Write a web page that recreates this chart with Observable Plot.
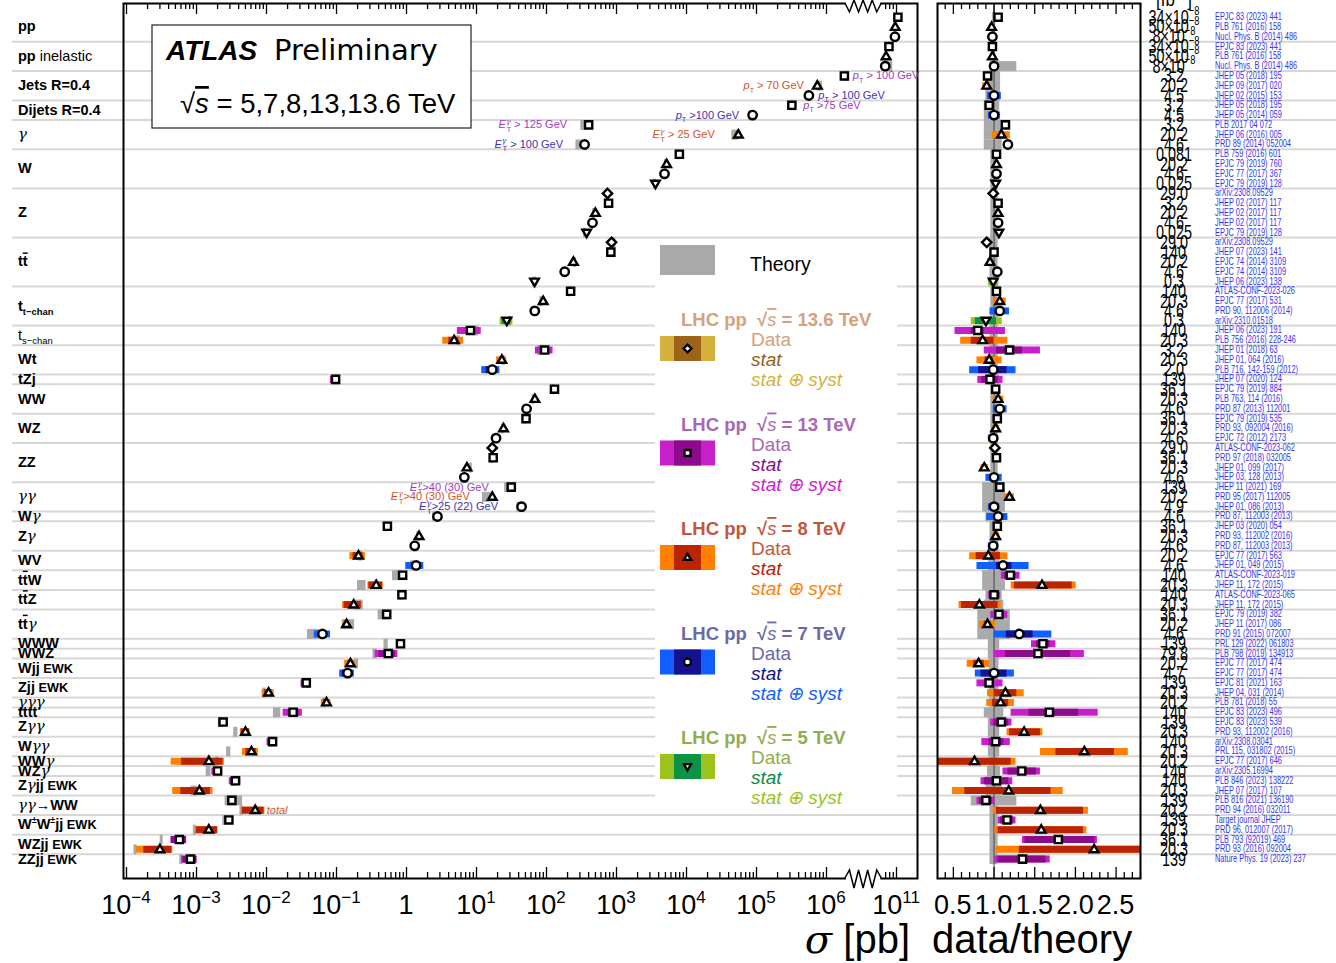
<!DOCTYPE html>
<html>
<head>
<meta charset="utf-8">
<script src="https://cdn.jsdelivr.net/npm/d3@7"></script>
<script src="https://cdn.jsdelivr.net/npm/@observablehq/plot@0.6"></script>
<style>
  html, body { margin: 0; padding: 0; background: #fff; }
  #wrap { position: relative; width: 1336px; height: 963px; overflow: hidden; background: #fff; }
  #main { position: absolute; left: 0; top: 0; width: 930px; height: 963px; }
  #ratio { position: absolute; left: 930px; top: 0; width: 406px; height: 963px; }
  svg { overflow: visible; }
</style>
</head>
<body>
<div id="wrap"><div id="main"></div><div id="ratio"></div></div>
<script>
// ---------------------------------------------------------------------------
// Standard Model total and fiducial production cross-section measurements
// ---------------------------------------------------------------------------

// Process groups (rich-text label pieces) and the number of measurements in each
const processLabels = [
  [["b","pp"]],
  [["b","pp"],["n"," inelastic"]],
  [["b","Jets R=0.4"]],
  [["b","Dijets R=0.4"]],
  [["g","γ"]],
  [["b","W"]],
  [["b","Z"]],
  [["b","t"],["ob","t"]],
  [["b","t"],["subb","t−chan"]],
  [["n","t"],["sub","s−chan"]],
  [["b","Wt"]],
  [["b","tZj"]],
  [["b","WW"]],
  [["b","WZ"]],
  [["b","ZZ"]],
  [["g","γγ"]],
  [["b","W"],["g","γ"]],
  [["b","Z"],["g","γ"]],
  [["b","WV"]],
  [["b","t"],["ob","t"],["b","W"]],
  [["b","t"],["ob","t"],["b","Z"]],
  [["b","t"],["ob","t"],["g","γ"]],
  [["b","WWW"]],
  [["b","WWZ"]],
  [["b","Wjj"],["sm"," EWK"]],
  [["b","Zjj"],["sm"," EWK"]],
  [["g","γγγ"]],
  [["b","tttt"]],
  [["b","Z"],["g","γγ"]],
  [["b","W"],["g","γγ"]],
  [["b","WW"],["g","γ"]],
  [["b","WZ"],["g","γ"]],
  [["b","Z"],["g","γ"],["b","jj"],["sm"," EWK"]],
  [["g","γγ"],["b","→WW"]],
  [["b","W"],["supb","±"],["b","W"],["supb","±"],["b","jj"],["sm"," EWK"]],
  [["b","WZjj"],["sm"," EWK"]],
  [["b","ZZjj"],["sm"," EWK"]]
];
const groupSizes = [3,3,3,2,3,4,5,5,4,2,3,1,3,3,4,3,1,3,2,2,2,3,1,1,2,2,1,1,2,2,1,1,2,2,2,2,1];

// Centre-of-mass energy (TeV) of each measurement, top to bottom
const energies = [
  13,8,7,  13,8,7,  13,8,7,  13,7,  13,8,7,  13,8,7,5,  13.6,13,8,7,5,  13.6,13,8,7,5,
  13,8,7,5,  13,8,  13,8,7,  13,  13,8,7,  13,8,7,  13.6,13,8,7,  13,8,7,  7,  13,8,7,
  8,7,  13,8,  13,8,  13,8,7,  13,  13,  8,7,  13,8,  8,  13,  13,8,  13,8,  8,  13,
  13,8,  13,8,  13,8,  13,8,  13
];

// Measured cross-section, pb
const sigma = [
  1.047e11, 9.6e10, 9.5e10,
  7.8e10, 7.1e10, 6.9e10,
  1.8e6, 7.4e5, 5.6e5,
  3.2e5, 8.8e4,
  400, 5.5e4, 350,
  7900, 5200, 4850, 3600,
  744, 770, 500, 454, 374,
  850, 830, 242, 182, 67.5,
  221, 89.6, 68, 27.1,
  8.2, 4.8,
  94, 23, 16.8,
  0.097,
  130, 68.2, 51.9,
  51, 24.3, 19,
  16.8, 17.3, 7.3, 6.7,
  31.4, 16.8, 44,
  2.77,
  0.533, 1.51, 1.31,
  0.206, 1.37,
  0.88, 0.369,
  0.86, 0.176,
  0.521, 0.139, 0.063,
  0.82,
  0.55,
  0.158, 0.144,
  0.037, 0.0107,
  0.072,
  0.024,
  0.0024, 0.005,
  0.0122, 0.0061,
  0.0015,
  0.002,
  0.0036, 0.0011,
  0.0032, 0.0069,
  0.0029, 0.0015,
  0.00057, 0.0003,
  0.00082
];

// data / theory
const ratio = [
  1.05, 0.97, 0.98,
  0.98, 0.98, 1.00,
  0.92, 0.91, 1.00,
  0.94, 1.00,
  1.14, 1.09, 1.17,
  1.03, 1.03, 1.03, 1.02,
  0.99, 1.05, 1.05, 1.05, 1.06,
  0.91, 1.00, 0.95, 1.04, 0.99,
  1.03, 1.07, 1.07, 0.90,
  0.80, 0.86,
  1.19, 0.94, 0.99,
  0.95,
  1.02, 1.05, 1.07,
  1.04, 1.02, 0.99,
  1.01, 1.03, 0.88, 1.00,
  1.07, 1.19, 1.00,
  1.05,
  1.04, 1.02, 0.99,
  0.93, 1.11,
  1.20, 1.59,
  1.00, 0.82,
  1.06, 0.92, 1.31,
  1.60,
  1.54,
  0.81, 1.00,
  0.94, 1.14,
  1.08,
  1.68,
  1.09, 1.37,
  1.02, 2.11,
  0.76,
  1.34,
  1.03, 1.18,
  0.90, 1.57,
  1.16, 1.58,
  1.79, 2.23,
  1.35
];

// Statistical uncertainty interval, in data/theory units
const statBand = [
  [1.04,1.06],[0.965,0.975],[0.975,0.985],
  [0.975,0.985],[0.975,0.985],[0.995,1.005],
  [0.915,0.925],[0.90,0.92],[0.99,1.01],
  [0.935,0.945],[0.99,1.01],
  [1.13,1.15],[1.08,1.10],[1.16,1.18],
  [1.02,1.04],[1.025,1.035],[1.025,1.035],[1.01,1.03],
  [0.985,0.995],[1.045,1.055],[1.045,1.055],[1.045,1.055],[1.05,1.07],
  [0.905,0.915],[0.995,1.005],[0.945,0.955],[1.035,1.045],[0.96,1.02],
  [1.025,1.035],[1.06,1.08],[1.05,1.09],[0.77,1.03],
  [0.72,0.88],[0.72,1.00],
  [1.03,1.35],[0.89,0.99],[0.81,1.16],
  [0.85,1.05],
  [1.015,1.025],[1.04,1.06],[1.05,1.09],
  [1.03,1.05],[1.01,1.03],[0.97,1.01],
  [0.99,1.03],[1.02,1.04],[0.86,0.90],[0.95,1.05],
  [1.06,1.08],[1.18,1.20],[0.98,1.02],
  [1.02,1.08],
  [1.03,1.05],[1.01,1.03],[0.97,1.01],
  [0.78,1.08],[1.03,1.22],
  [1.13,1.27],[1.25,1.96],
  [0.97,1.03],[0.60,1.05],
  [1.03,1.09],[0.88,0.96],[1.15,1.48],
  [1.52,1.69],
  [1.14,1.94],
  [0.75,0.88],[0.84,1.16],
  [0.88,1.00],[1.00,1.28],
  [0.98,1.18],
  [1.43,2.04],
  [1.00,1.18],[1.19,1.57],
  [0.94,1.12],[1.76,2.48],
  [0.31,1.21],
  [1.17,1.52],
  [0.88,1.18],[0.64,1.70],
  [0.82,0.98],[1.03,2.10],
  [1.08,1.24],[1.05,2.10],
  [1.38,2.24],[1.31,3.30],
  [1.05,1.64]
];

// Statistical ⊕ systematic uncertainty interval, in data/theory units
const totalBand = [
  [1.03,1.07],[0.95,0.99],[0.96,1.00],
  [0.95,1.01],[0.96,1.00],[0.97,1.03],
  [0.88,0.96],[0.86,0.96],[0.92,1.09],
  [0.90,0.98],[0.93,1.08],
  [1.10,1.18],[0.98,1.20],[1.12,1.22],
  [1.00,1.06],[1.00,1.06],[1.01,1.05],[0.99,1.05],
  [0.97,1.01],[1.03,1.07],[1.03,1.07],[1.03,1.07],[1.03,1.09],
  [0.88,0.94],[0.97,1.03],[0.92,0.98],[1.00,1.08],[0.93,1.05],
  [0.99,1.07],[0.99,1.15],[0.95,1.19],[0.72,1.10],
  [0.52,1.14],[0.59,1.17],
  [0.88,1.57],[0.79,1.10],[0.70,1.27],
  [0.80,1.11],
  [0.98,1.06],[0.99,1.12],[0.99,1.16],
  [0.99,1.09],[0.97,1.07],[0.93,1.05],
  [0.96,1.06],[0.99,1.07],[0.84,0.93],[0.90,1.10],
  [1.03,1.11],[1.13,1.25],[0.93,1.07],
  [0.91,1.17],
  [0.99,1.09],[0.97,1.07],[0.93,1.05],
  [0.70,1.17],[0.79,1.43],
  [1.09,1.32],[1.21,2.01],
  [0.93,1.08],[0.57,1.09],
  [0.96,1.17],[0.82,1.02],[1.00,1.71],
  [1.46,1.76],
  [1.00,2.11],
  [0.67,0.95],[0.77,1.25],
  [0.79,1.11],[0.92,1.37],
  [0.91,1.25],
  [1.21,2.28],
  [0.96,1.22],[1.16,1.60],
  [0.85,1.20],[1.57,2.65],
  [0.22,1.27],
  [1.11,1.57],
  [0.84,1.23],[0.49,1.85],
  [0.79,1.01],[0.99,2.16],
  [1.05,1.27],[1.01,2.14],
  [1.35,2.27],[1.03,3.40],
  [1.01,1.69]
];

// Theory uncertainty interval, relative to the prediction
const theoryBand = [
  [0.98,1.02],[0.98,1.02],[0.98,1.02],
  [0.98,1.02],[0.98,1.02],[0.95,1.28],
  [0.90,1.08],[0.90,1.08],[0.90,1.08],
  [0.88,1.07],[0.88,1.07],
  [0.88,1.10],[0.88,1.10],[0.88,1.10],
  [0.96,1.05],[0.96,1.05],[0.96,1.05],[0.96,1.05],
  [0.96,1.05],[0.96,1.05],[0.96,1.05],[0.96,1.05],[0.96,1.05],
  [0.95,1.05],[0.95,1.05],[0.95,1.05],[0.95,1.05],[0.94,1.06],
  [0.96,1.05],[0.96,1.05],[0.96,1.05],[0.96,1.05],
  [0.95,1.05],[0.95,1.05],
  [0.95,1.05],[0.95,1.05],[0.95,1.05],
  [0.93,1.07],
  [0.96,1.05],[0.96,1.05],[0.96,1.05],
  [0.96,1.05],[0.96,1.05],[0.96,1.05],
  [0.96,1.05],[0.96,1.05],[0.96,1.05],[0.96,1.05],
  [0.86,1.14],[0.86,1.14],[0.86,1.14],
  [0.90,1.10],
  [0.95,1.06],[0.95,1.06],[0.95,1.06],
  [0.93,1.07],[0.93,1.07],
  [0.86,1.14],[0.86,1.14],
  [0.90,1.10],[0.88,1.12],
  [0.80,1.20],[0.80,1.20],[0.80,1.20],
  [0.93,1.07],
  [0.93,1.07],
  [0.94,1.06],[0.94,1.06],
  [0.94,1.06],[0.94,1.06],
  [0.95,1.05],
  [0.88,1.12],
  [0.93,1.07],[0.93,1.07],
  [0.93,1.07],[0.93,1.07],
  [0.95,1.05],
  [0.92,1.08],
  [0.90,1.10],[0.90,1.10],
  [0.72,1.28],[0.95,1.05],
  [0.95,1.05],[0.95,1.05],
  [0.95,1.05],[0.95,1.05],
  [0.95,1.05]
];

// Integrated luminosity, fb⁻¹
const lumi = [
  "34×10⁻⁸","50×10⁻⁸","8×10⁻⁸",
  "34×10⁻⁸","50×10⁻⁸","8×10⁻⁸",
  "3.2","20.2","4.5",
  "3.2","4.5",
  "3.2","20.2","4.6",
  "0.081","20.2","4.6","0.025",
  "29.0","3.2","20.2","4.6","0.025",
  "29.0","140","20.2","4.6","0.3",
  "140","20.3","4.6","0.3",
  "140","20.3",
  "3.2","20.3","2.0",
  "139",
  "36.1","20.3","4.6",
  "36.1","20.3","4.6",
  "29.0","36.1","20.3","4.6",
  "139","20.2","4.9",
  "4.6",
  "36.1","20.3","4.6",
  "20.2","4.6",
  "140","20.3",
  "140","20.3",
  "36.1","20.2","4.6",
  "139",
  "79.8",
  "20.2","4.7",
  "139","20.3",
  "20.2",
  "140",
  "139","20.3",
  "140","20.3",
  "20.2",
  "140",
  "140","20.3",
  "139","20.2",
  "139","20.3",
  "36.1","20.3",
  "139"
];

// Publication of each measurement
const refs = [
  "EPJC 83 (2023) 441","PLB 761 (2016) 158","Nucl. Phys. B (2014) 486",
  "EPJC 83 (2023) 441","PLB 761 (2016) 158","Nucl. Phys. B (2014) 486",
  "JHEP 05 (2018) 195","JHEP 09 (2017) 020","JHEP 02 (2015) 153",
  "JHEP 05 (2018) 195","JHEP 05 (2014) 059",
  "PLB 2017 04 072","JHEP 06 (2016) 005","PRD 89 (2014) 052004",
  "PLB 759 (2016) 601","EPJC 79 (2019) 760","EPJC 77 (2017) 367","EPJC 79 (2019) 128",
  "arXiv:2308.09529","JHEP 02 (2017) 117","JHEP 02 (2017) 117","JHEP 02 (2017) 117","EPJC 79 (2019) 128",
  "arXiv:2308.09529","JHEP 07 (2023) 141","EPJC 74 (2014) 3109","EPJC 74 (2014) 3109","JHEP 06 (2023) 138",
  "ATLAS-CONF-2023-026","EPJC 77 (2017) 531","PRD 90, 112006 (2014)","arXiv:2310.01518",
  "JHEP 06 (2023) 191","PLB 756 (2016) 228-246",
  "JHEP 01 (2018) 63","JHEP 01, 064 (2016)","PLB 716, 142-159 (2012)",
  "JHEP 07 (2020) 124",
  "EPJC 79 (2019) 884","PLB 763, 114 (2016)","PRD 87 (2013) 112001",
  "EPJC 79 (2019) 535","PRD 93, 092004 (2016)","EPJC 72 (2012) 2173",
  "ATLAS-CONF-2023-062","PRD 97 (2018) 032005","JHEP 01, 099 (2017)","JHEP 03, 128 (2013)",
  "JHEP 11 (2021) 169","PRD 95 (2017) 112005","JHEP 01, 086 (2013)",
  "PRD 87, 112003 (2013)",
  "JHEP 03 (2020) 054","PRD 93, 112002 (2016)","PRD 87, 112003 (2013)",
  "EPJC 77 (2017) 563","JHEP 01, 049 (2015)",
  "ATLAS-CONF-2023-019","JHEP 11, 172 (2015)",
  "ATLAS-CONF-2023-065","JHEP 11, 172 (2015)",
  "EPJC 79 (2019) 382","JHEP 11 (2017) 086","PRD 91 (2015) 072007",
  "PRL 129 (2022) 061803",
  "PLB 798 (2019) 134913",
  "EPJC 77 (2017) 474","EPJC 77 (2017) 474",
  "EPJC 81 (2021) 163","JHEP 04, 031 (2014)",
  "PLB 781 (2018) 55",
  "EPJC 83 (2023) 496",
  "EPJC 83 (2023) 539","PRD 93, 112002 (2016)",
  "arXiv:2308.03041","PRL 115, 031802 (2015)",
  "EPJC 77 (2017) 646",
  "arXiv:2305.16994",
  "PLB 846 (2023) 138222","JHEP 07 (2017) 107",
  "PLB 816 (2021) 136190","PRD 94 (2016) 032011",
  "Target journal JHEP","PRD 96, 012007 (2017)",
  "PLB 793 (92019) 469","PRD 93 (2016) 092004",
  "Nature Phys. 19 (2023) 237"
];

// Phase-space annotations: measurement row, side of the marker, gap (px), energy colour, text
const noteRows   = [6, 7, 8, 9, 10, 11, 12, 13, 48, 49, 50, 81];
const noteSide   = [1, -1, 1, 1, -1, -1, -1, -1, -1, -1, -1, 1];
const noteGap    = [9, 13, 10, 12, 13, 21, 23, 21, 22, 22, 23, 12];
const noteEnergy = [13, 8, 7, 13, 7, 13, 8, 7, 13, 8, 7, 8];
const noteText = [
  [["i","p"],["sub","T"],["n"," > 100 GeV"]],
  [["i","p"],["sub","T"],["n"," > 70 GeV"]],
  [["i","p"],["sub","T"],["n"," > 100 GeV"]],
  [["i","p"],["sub","T"],["n"," >75 GeV"]],
  [["i","p"],["sub","T"],["n"," >100 GeV"]],
  [["i","E"],["supg","γ"],["subx","T"],["n"," > 125 GeV"]],
  [["i","E"],["supg","γ"],["subx","T"],["n"," > 25 GeV"]],
  [["i","E"],["supg","γ"],["subx","T"],["n"," > 100 GeV"]],
  [["i","E"],["supg","γ"],["subx","T"],["n",">40 (30) GeV"]],
  [["i","E"],["supg","γ"],["subx","T"],["n",">40 (30) GeV"]],
  [["i","E"],["supg","γ"],["subx","T"],["n",">25 (22) GeV"]],
  [["i","total"]]
];

// Axis ticks
const mainMajorTicks = [1e-4, 1e-3, 1e-2, 1e-1, 1, 10, 100, 1e3, 1e4, 1e5, 1e6, 1e11];
const mainTickLabels = [["10","−4"],["10","−3"],["10","−2"],["10","−1"],["1",""],["10","1"],["10","2"],["10","3"],["10","4"],["10","5"],["10","6"],["10","11"]];
const ratioMajorTicks = [0.5, 1.0, 1.5, 2.0, 2.5];
const legendEnergies = [13.6, 13, 8, 7, 5];

// ---------------------------------------------------------------------------
// Styling
// ---------------------------------------------------------------------------
const SANS = "'Liberation Sans', Arial, Helvetica, sans-serif";
const DEJAVU = "'DejaVu Sans', 'Liberation Sans', sans-serif";
const SERIF = "'DejaVu Serif', 'Liberation Serif', serif";
const palette = {
  13.6: {syst: "#d5b13c", stat: "#9b6418", head: "#d6a07d", statText: "#93601a", systText: "#d5b13c", note: "#b08030"},
  13:   {syst: "#c91ecb", stat: "#8b0b8b", head: "#a968b3", statText: "#8b0b8b", systText: "#cc22cc", note: "#a23ac2"},
  8:    {syst: "#ff8000", stat: "#bb2400", head: "#c2573c", statText: "#b82200", systText: "#ff7f00", note: "#d4512c"},
  7:    {syst: "#0f5fff", stat: "#14128c", head: "#6b6aa7", statText: "#14128c", systText: "#1060ff", note: "#3b33b0"},
  5:    {syst: "#9cc31d", stat: "#0a9344", head: "#8fae4e", statText: "#0a8a40", systText: "#9cc31d", note: "#6a9a2a"}
};
const THEORY_GREY = "#aaaaaa";
const SEPARATOR = "#d7d7d7";

// Open markers, one shape per centre-of-mass energy
const rOf = size => Math.sqrt(size / Math.PI);
const markerOf = {
  13.6: {draw(c, s) { const r = rOf(s) * 1.3; c.moveTo(0, -r); c.lineTo(r, 0); c.lineTo(0, r); c.lineTo(-r, 0); c.closePath(); }},
  13:   {draw(c, s) { const r = rOf(s); c.rect(-r, -r, 2 * r, 2 * r); }},
  8:    {draw(c, s) { const r = rOf(s); c.moveTo(0, -1.25 * r); c.lineTo(1.2 * r, 0.8 * r); c.lineTo(-1.2 * r, 0.8 * r); c.closePath(); }},
  7:    {draw(c, s) { const r = rOf(s) * 1.17; c.moveTo(r, 0); c.arc(0, 0, r, 0, 2 * Math.PI); }},
  5:    {draw(c, s) { const r = rOf(s); c.moveTo(0, 1.25 * r); c.lineTo(1.2 * r, -0.8 * r); c.lineTo(-1.2 * r, -0.8 * r); c.closePath(); }}
};

// Rich-text pieces: [style code, string]
const STYLE = {
  n:    {weight: "normal"},
  b:    {weight: "bold"},
  i:    {italic: true, weight: "normal"},
  g:    {italic: true, family: SERIF, scale: 1.03},
  sub:  {scale: 0.65, shift: 0.3},
  subb: {scale: 0.65, shift: 0.3, weight: "bold"},
  supb: {scale: 0.62, shift: -0.45, weight: "bold"},
  sup:  {scale: 0.65, shift: -0.42},
  supg: {scale: 0.72, shift: -0.42, italic: true, family: SERIF},
  subx: {scale: 0.7, shift: 0.32, back: 0.38},
  sm:   {scale: 0.88, weight: "bold"},
  ob:   {weight: "bold", over: true},
  io:   {italic: true, over: true, weight: "normal"}
};
function rich(parent, x, y, parts, o = {}) {
  const size = o.size || 14;
  const t = parent.append("text")
    .attr("x", x).attr("y", y)
    .attr("text-anchor", o.anchor || "start")
    .attr("font-family", o.family || SANS)
    .attr("font-size", size)
    .attr("fill", o.fill || "black");
  if (o.weight) t.attr("font-weight", o.weight);
  if (o.italic) t.attr("font-style", "italic");
  if (o.transform) t.attr("transform", o.transform);
  let shift = 0;
  for (const [code, str] of parts) {
    const s = STYLE[code] || {};
    const ts = t.append("tspan").text(str);
    const target = (s.shift || 0) * size;
    if (target !== shift) ts.attr("dy", target - shift);
    shift = target;
    if (s.scale) ts.attr("font-size", size * s.scale);
    if (s.weight) ts.attr("font-weight", s.weight);
    if (s.italic) ts.attr("font-style", "italic");
    if (s.family) ts.attr("font-family", s.family);
    if (s.back) ts.attr("dx", -s.back * size);
    if (s.over) ts.attr("text-decoration", "overline");
  }
  return t;
}

// ---------------------------------------------------------------------------
// Derived tables
// ---------------------------------------------------------------------------
const rows = energies.map((E, i) => ({
  i, E, sigma: sigma[i], ratio: ratio[i],
  sLo: statBand[i][0], sHi: statBand[i][1],
  tLo: totalBand[i][0], tHi: totalBand[i][1],
  thLo: theoryBand[i][0], thHi: theoryBand[i][1],
  lumi: lumi[i], ref: refs[i]
}));
const groupStart = [];
let acc = 0;
for (const n of groupSizes) { groupStart.push(acc); acc += n; }
const groupCenter = groupSizes.map((n, k) => groupStart[k] + (n - 1) / 2);
const separators = groupStart.slice(1).map(s => s - 0.5);

// Broken logarithmic σ axis: decades are uniform up to 10⁶, then the axis jumps to 10¹⁰–10¹¹
const BREAK_LO = 6.27, BREAK_HI = 6.79;
const u = v => v > 1e8 ? Math.log10(v) - 4 : Math.log10(v);
const outsideBreak = x => x < BREAK_LO || x > BREAK_HI;
const mainMinorTicks = [];
for (let e = -4; e <= 5; e++) for (let k = 2; k <= 9; k++) mainMinorTicks.push(k * 10 ** e);
for (let k = 2; k <= 9; k++) mainMinorTicks.push(k * 1e10);
const ratioMinorTicks = d3.range(4, 29).map(d => d / 10).filter(d => !ratioMajorTicks.includes(d));

// Frame geometry
const H = 963, TOP = 3, BOTTOM = 878, FRAME_H = BOTTOM - TOP;
const rowDomain = [-1.40, 87.98];

function ticks(values, len, xf) {
  const vals = values.map(xf);
  return [
    Plot.ruleX(vals, {x: d => d, insetTop: FRAME_H - len, stroke: "black", strokeWidth: 1.3}),
    Plot.ruleX(vals, {x: d => d, insetBottom: FRAME_H - len, stroke: "black", strokeWidth: 1.3})
  ];
}
function markers(xf) {
  return legendEnergies.map(E => Plot.dot(rows.filter(d => d.E === E), {
    x: xf, y: "i", symbol: markerOf[E], r: 3.6,
    fill: "white", stroke: "black", strokeWidth: 2.4, strokeLinejoin: "miter"
  }));
}

// ---------------------------------------------------------------------------
// Cross-section panel
// ---------------------------------------------------------------------------
const mainChart = Plot.plot({
  width: 930, height: H,
  marginLeft: 123, marginRight: 13, marginTop: TOP, marginBottom: H - BOTTOM,
  x: {type: "linear", domain: [-4.043, 7.3], axis: null},
  y: {type: "linear", domain: rowDomain, reverse: true, axis: null},
  color: {type: "identity"},
  style: {background: "white", overflow: "visible"},
  marks: [
    Plot.ruleY(separators, {y: d => d, stroke: SEPARATOR, strokeWidth: 2, insetLeft: -111, insetRight: -13}),
    Plot.ruleY(rows, {y: "i", x1: d => u(d.sigma / d.ratio * d.thLo), x2: d => u(d.sigma / d.ratio * d.thHi), stroke: THEORY_GREY, strokeWidth: 10}),
    Plot.ruleY(rows, {y: "i", x1: d => u(d.sigma * d.tLo / d.ratio), x2: d => u(d.sigma * d.tHi / d.ratio), stroke: d => palette[d.E].syst, strokeWidth: 7}),
    Plot.ruleY(rows, {y: "i", x1: d => u(d.sigma * d.sLo / d.ratio), x2: d => u(d.sigma * d.sHi / d.ratio), stroke: d => palette[d.E].stat, strokeWidth: 7}),
    ...markers(d => u(d.sigma)),
    Plot.frame({stroke: "black", strokeWidth: 2}),
    ...ticks(mainMajorTicks, 11, u),
    ...ticks(mainMinorTicks.filter(v => outsideBreak(u(v))), 6, u)
  ]
});
document.getElementById("main").appendChild(mainChart);

{
  const svg = d3.select(mainChart);
  const sx = v => mainChart.scale("x").apply(v);
  const sy = v => mainChart.scale("y").apply(v);

  // process names
  const lab = svg.append("g");
  processLabels.forEach((parts, k) => rich(lab, 18, sy(groupCenter[k]) + 5, parts, {size: 14.5}));

  // phase-space annotations
  const notes = svg.append("g");
  noteRows.forEach((ri, k) => {
    const d = rows[ri];
    const x = sx(u(d.sigma)) + noteSide[k] * noteGap[k];
    rich(notes, x, sy(ri) + 4, noteText[k], {size: 11, fill: palette[noteEnergy[k]].note, anchor: noteSide[k] > 0 ? "start" : "end"});
  });

  // axis break
  const brk = svg.append("g");
  const x0 = sx(BREAK_LO), x1 = sx(BREAK_HI);
  [[TOP, 1], [BOTTOM, -1]].forEach(([y, dir]) => {
    brk.append("rect").attr("x", x0 + 1).attr("y", y - 3).attr("width", x1 - x0 - 2).attr("height", 6).attr("fill", "white");
    const pts = [[x0, y]];
    for (let j = 1; j < 8; j++) pts.push([x0 + j * (x1 - x0) / 8, y + (j % 2 ? (dir > 0 ? 9 : -8) : (dir > 0 ? -3 : 10))]);
    pts.push([x1, y]);
    brk.append("path").attr("d", d3.line()(pts)).attr("fill", "none").attr("stroke", "black").attr("stroke-width", 1.5);
  });

  // tick labels
  const tl = svg.append("g");
  mainMajorTicks.forEach((v, k) => {
    const [base, exp] = mainTickLabels[k];
    const t = tl.append("text").attr("x", sx(u(v))).attr("y", 914).attr("text-anchor", "middle")
      .attr("font-family", SANS).attr("font-size", 27).attr("fill", "black");
    t.append("tspan").text(base);
    if (exp) t.append("tspan").attr("font-size", 17).attr("dy", -11).text(exp);
  });

  // axis title
  const at = svg.append("text").attr("x", 910).attr("y", 953).attr("text-anchor", "end")
    .attr("font-family", SANS).attr("font-size", 40).attr("fill", "black");
  at.append("tspan").attr("font-style", "italic").attr("font-family", SERIF).text("σ");
  at.append("tspan").text(" [pb]");

  // experiment label
  const box = svg.append("g");
  box.append("rect").attr("x", 152).attr("y", 25).attr("width", 319).attr("height", 103)
    .attr("fill", "white").attr("stroke", "#222").attr("stroke-width", 1.2);
  box.append("text").attr("x", 166).attr("y", 60).attr("font-family", SANS).attr("font-size", 28)
    .attr("font-weight", "bold").attr("font-style", "italic").attr("text-anchor", "start").text("ATLAS");
  box.append("text").attr("x", 274).attr("y", 60).attr("font-family", DEJAVU).attr("font-size", 29)
    .attr("text-anchor", "start").text("Preliminary");
  rich(box, 180, 113, [["n","√"],["io","s"],["n"," = 5,7,8,13,13.6 TeV"]], {size: 27.5, family: SANS});

  // legend
  const leg = svg.append("g");
  leg.append("rect").attr("x", 655).attr("y", 240).attr("width", 242).attr("height", 572).attr("fill", "white");
  leg.append("rect").attr("x", 660).attr("y", 245).attr("width", 55).attr("height", 30).attr("fill", THEORY_GREY);
  rich(leg, 750, 271, [["n","Theory"]], {size: 19.5});
  legendEnergies.forEach((E, k) => {
    const dy = k * 104.5, p = palette[E];
    rich(leg, 681, 326 + dy, [["b","LHC pp  √"],["io","s"],["b"," = " + E + " TeV"]], {size: 18.5, fill: p.head, weight: "bold"});
    leg.append("rect").attr("x", 660).attr("y", 336 + dy).attr("width", 55).attr("height", 25).attr("fill", p.syst);
    leg.append("rect").attr("x", 674).attr("y", 336 + dy).attr("width", 27).attr("height", 25).attr("fill", p.stat);
    leg.append("path").attr("transform", `translate(687.5,${348.5 + dy})`)
      .attr("d", d3.symbol(markerOf[E], Math.PI * 3 * 3)())
      .attr("fill", "white").attr("stroke", "black").attr("stroke-width", 2.4);
    rich(leg, 751, 346 + dy, [["n","Data"]], {size: 19, fill: p.head});
    rich(leg, 751, 366 + dy, [["i","stat"]], {size: 19, fill: p.statText});
    rich(leg, 751, 386 + dy, [["i","stat ⊕ syst"]], {size: 19, fill: p.systText});
  });
}

// ---------------------------------------------------------------------------
// Data / theory panel with luminosity and references
// ---------------------------------------------------------------------------
const ratioChart = Plot.plot({
  width: 406, height: H,
  marginLeft: 7, marginRight: 196, marginTop: TOP, marginBottom: H - BOTTOM,
  x: {type: "linear", domain: [0.305, 2.80], axis: null},
  y: {type: "linear", domain: rowDomain, reverse: true, axis: null},
  color: {type: "identity"},
  style: {background: "white", overflow: "visible"},
  marks: [
    Plot.ruleY(separators, {y: d => d, stroke: SEPARATOR, strokeWidth: 2, insetLeft: -7, insetRight: -196}),
    Plot.ruleY(rows, {y: "i", x1: "thLo", x2: "thHi", stroke: THEORY_GREY, strokeWidth: 10, clip: true}),
    Plot.ruleX([1], {stroke: "#444", strokeWidth: 1}),
    Plot.ruleY(rows, {y: "i", x1: "tLo", x2: "tHi", stroke: d => palette[d.E].syst, strokeWidth: 7, clip: true}),
    Plot.ruleY(rows, {y: "i", x1: "sLo", x2: "sHi", stroke: d => palette[d.E].stat, strokeWidth: 7, clip: true}),
    ...markers("ratio"),
    Plot.frame({stroke: "black", strokeWidth: 2}),
    ...ticks(ratioMajorTicks, 11, d => d),
    ...ticks(ratioMinorTicks, 6, d => d)
  ]
});
document.getElementById("ratio").appendChild(ratioChart);

{
  const svg = d3.select(ratioChart);
  const sx = v => ratioChart.scale("x").apply(v);
  const sy = v => ratioChart.scale("y").apply(v);

  const tl = svg.append("g");
  ratioMajorTicks.forEach(v => {
    tl.append("text").attr("x", sx(v)).attr("y", 914).attr("text-anchor", "middle")
      .attr("font-family", SANS).attr("font-size", 27).attr("fill", "black").text(d3.format(".1f")(v));
  });
  svg.append("text").attr("x", 2).attr("y", 953).attr("text-anchor", "start")
    .attr("font-family", SANS).attr("font-size", 40).attr("fill", "black").text("data/theory");

  // luminosity column
  const LX = 244, RX = 285;
  const col = svg.append("g");
  rich(col, 0, 0, [["n","[fb"],["sup","−1"],["n","]"]], {size: 21, anchor: "middle", transform: `translate(${LX},6) scale(0.8,1)`});
  const supMap = {"⁻": "−", "⁸": "8"};
  rows.forEach(d => {
    const m = d.lumi.match(/^([^⁻⁸]+)([⁻⁸]*)$/);
    const parts = [["n", m[1]]];
    if (m[2]) parts.push(["sup", [...m[2]].map(c => supMap[c]).join("")]);
    rich(col, 0, 0, parts, {size: 20, anchor: "middle", transform: `translate(${LX},${sy(d.i) + 7}) scale(0.72,1)`});
    col.append("text").attr("transform", `translate(${RX},${sy(d.i) + 3.5}) scale(0.74,1)`)
      .attr("text-anchor", "start").attr("font-family", SANS).attr("font-size", 10)
      .attr("fill", "#3434ee").text(d.ref);
  });
}
</script>
</body>
</html>
